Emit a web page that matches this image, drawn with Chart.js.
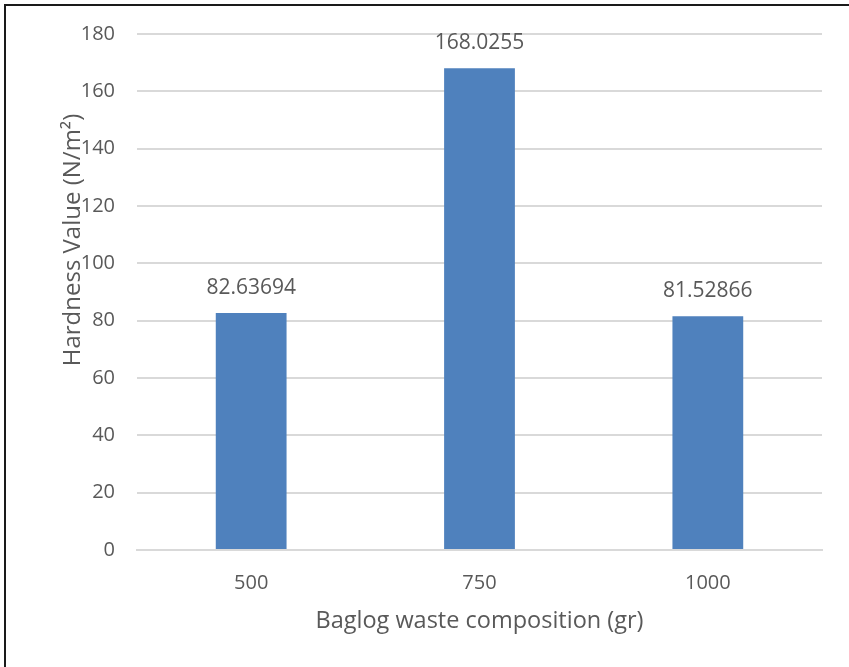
<!DOCTYPE html>
<html>
<head>
<meta charset="utf-8">
<script src="https://cdn.jsdelivr.net/npm/chart.js@4"></script>
<style>
  html, body { margin: 0; padding: 0; background: #fff; }
  #wrap { position: relative; width: 849px; height: 667px; }
  #frame { position: absolute; left: 4px; top: 4px; width: 845px; height: 663px;
           border-top: 2px solid #1a1a1a; border-left: 2px solid #1a1a1a; box-sizing: border-box; }
  canvas { position: absolute; left: 0; top: 0; }
</style>
</head>
<body>
<div id="wrap">
  <canvas id="c" width="849" height="667"></canvas>
  <div id="frame"></div>
</div>
<script>
const categories = ['500', '750', '1000'];
const hardness = [82.63694, 168.0255, 81.52866];
const valueLabels = ['82.63694', '168.0255', '81.52866'];
const yTicks = [0, 20, 40, 60, 80, 100, 120, 140, 160, 180];
const xTitle = 'Baglog waste composition (gr)';
const yTitle = 'Hardness Value (N/m\u00B2)';

const FONT = '"Open Sans", "Liberation Sans", sans-serif';
const TEXT = '#595959';

// value labels above each bar
const barLabels = {
  id: 'barLabels',
  afterDatasetsDraw(chart) {
    const ctx = chart.ctx;
    const meta = chart.getDatasetMeta(0);
    ctx.save();
    ctx.font = '21px ' + FONT;
    ctx.fillStyle = TEXT;
    ctx.textAlign = 'center';
    ctx.textBaseline = 'middle';
    meta.data.forEach((bar, i) => {
      ctx.fillText(valueLabels[i], bar.x, bar.y - 25);
    });
    ctx.restore();
  }
};

// axis titles
const axisTitles = {
  id: 'axisTitles',
  afterDraw(chart) {
    const ctx = chart.ctx;
    const area = chart.chartArea;
    ctx.save();
    ctx.fillStyle = TEXT;
    ctx.textAlign = 'center';
    ctx.textBaseline = 'middle';
    ctx.font = '23.5px ' + FONT;
    ctx.fillText(xTitle, (area.left + area.right) / 2, 621);
    ctx.font = '24px ' + FONT;
    ctx.translate(73, 240);
    ctx.rotate(-Math.PI / 2);
    ctx.fillText(yTitle, 0, 0);
    ctx.restore();
  }
};

new Chart(document.getElementById('c'), {
  type: 'bar',
  data: {
    labels: categories,
    datasets: [{
      data: hardness,
      backgroundColor: '#4F81BD',
      borderWidth: 0,
      categoryPercentage: 1,
      barPercentage: 0.31
    }]
  },
  options: {
    responsive: false,
    animation: false,
    layout: { padding: { left: 0, right: 27, top: 34, bottom: 0 } },
    plugins: { legend: { display: false }, tooltip: { enabled: false } },
    scales: {
      x: {
        grid: { display: false, drawTicks: false },
        border: { color: '#D9D9D9', width: 2 },
        ticks: { color: TEXT, font: { family: FONT, size: 20 }, padding: 21 },
        afterFit(scale) { scale.height = 117; }
      },
      y: {
        min: 0, max: 180,
        afterBuildTicks(scale) { scale.ticks = yTicks.map(v => ({ value: v })); },
        grid: { color: '#D9D9D9', lineWidth: 2, drawTicks: false },
        border: { display: false },
        ticks: { color: TEXT, font: { family: FONT, size: 20 }, padding: 22 },
        afterFit(scale) { scale.width = 137; }
      }
    }
  },
  plugins: [barLabels, axisTitles]
});
</script>
</body>
</html>
